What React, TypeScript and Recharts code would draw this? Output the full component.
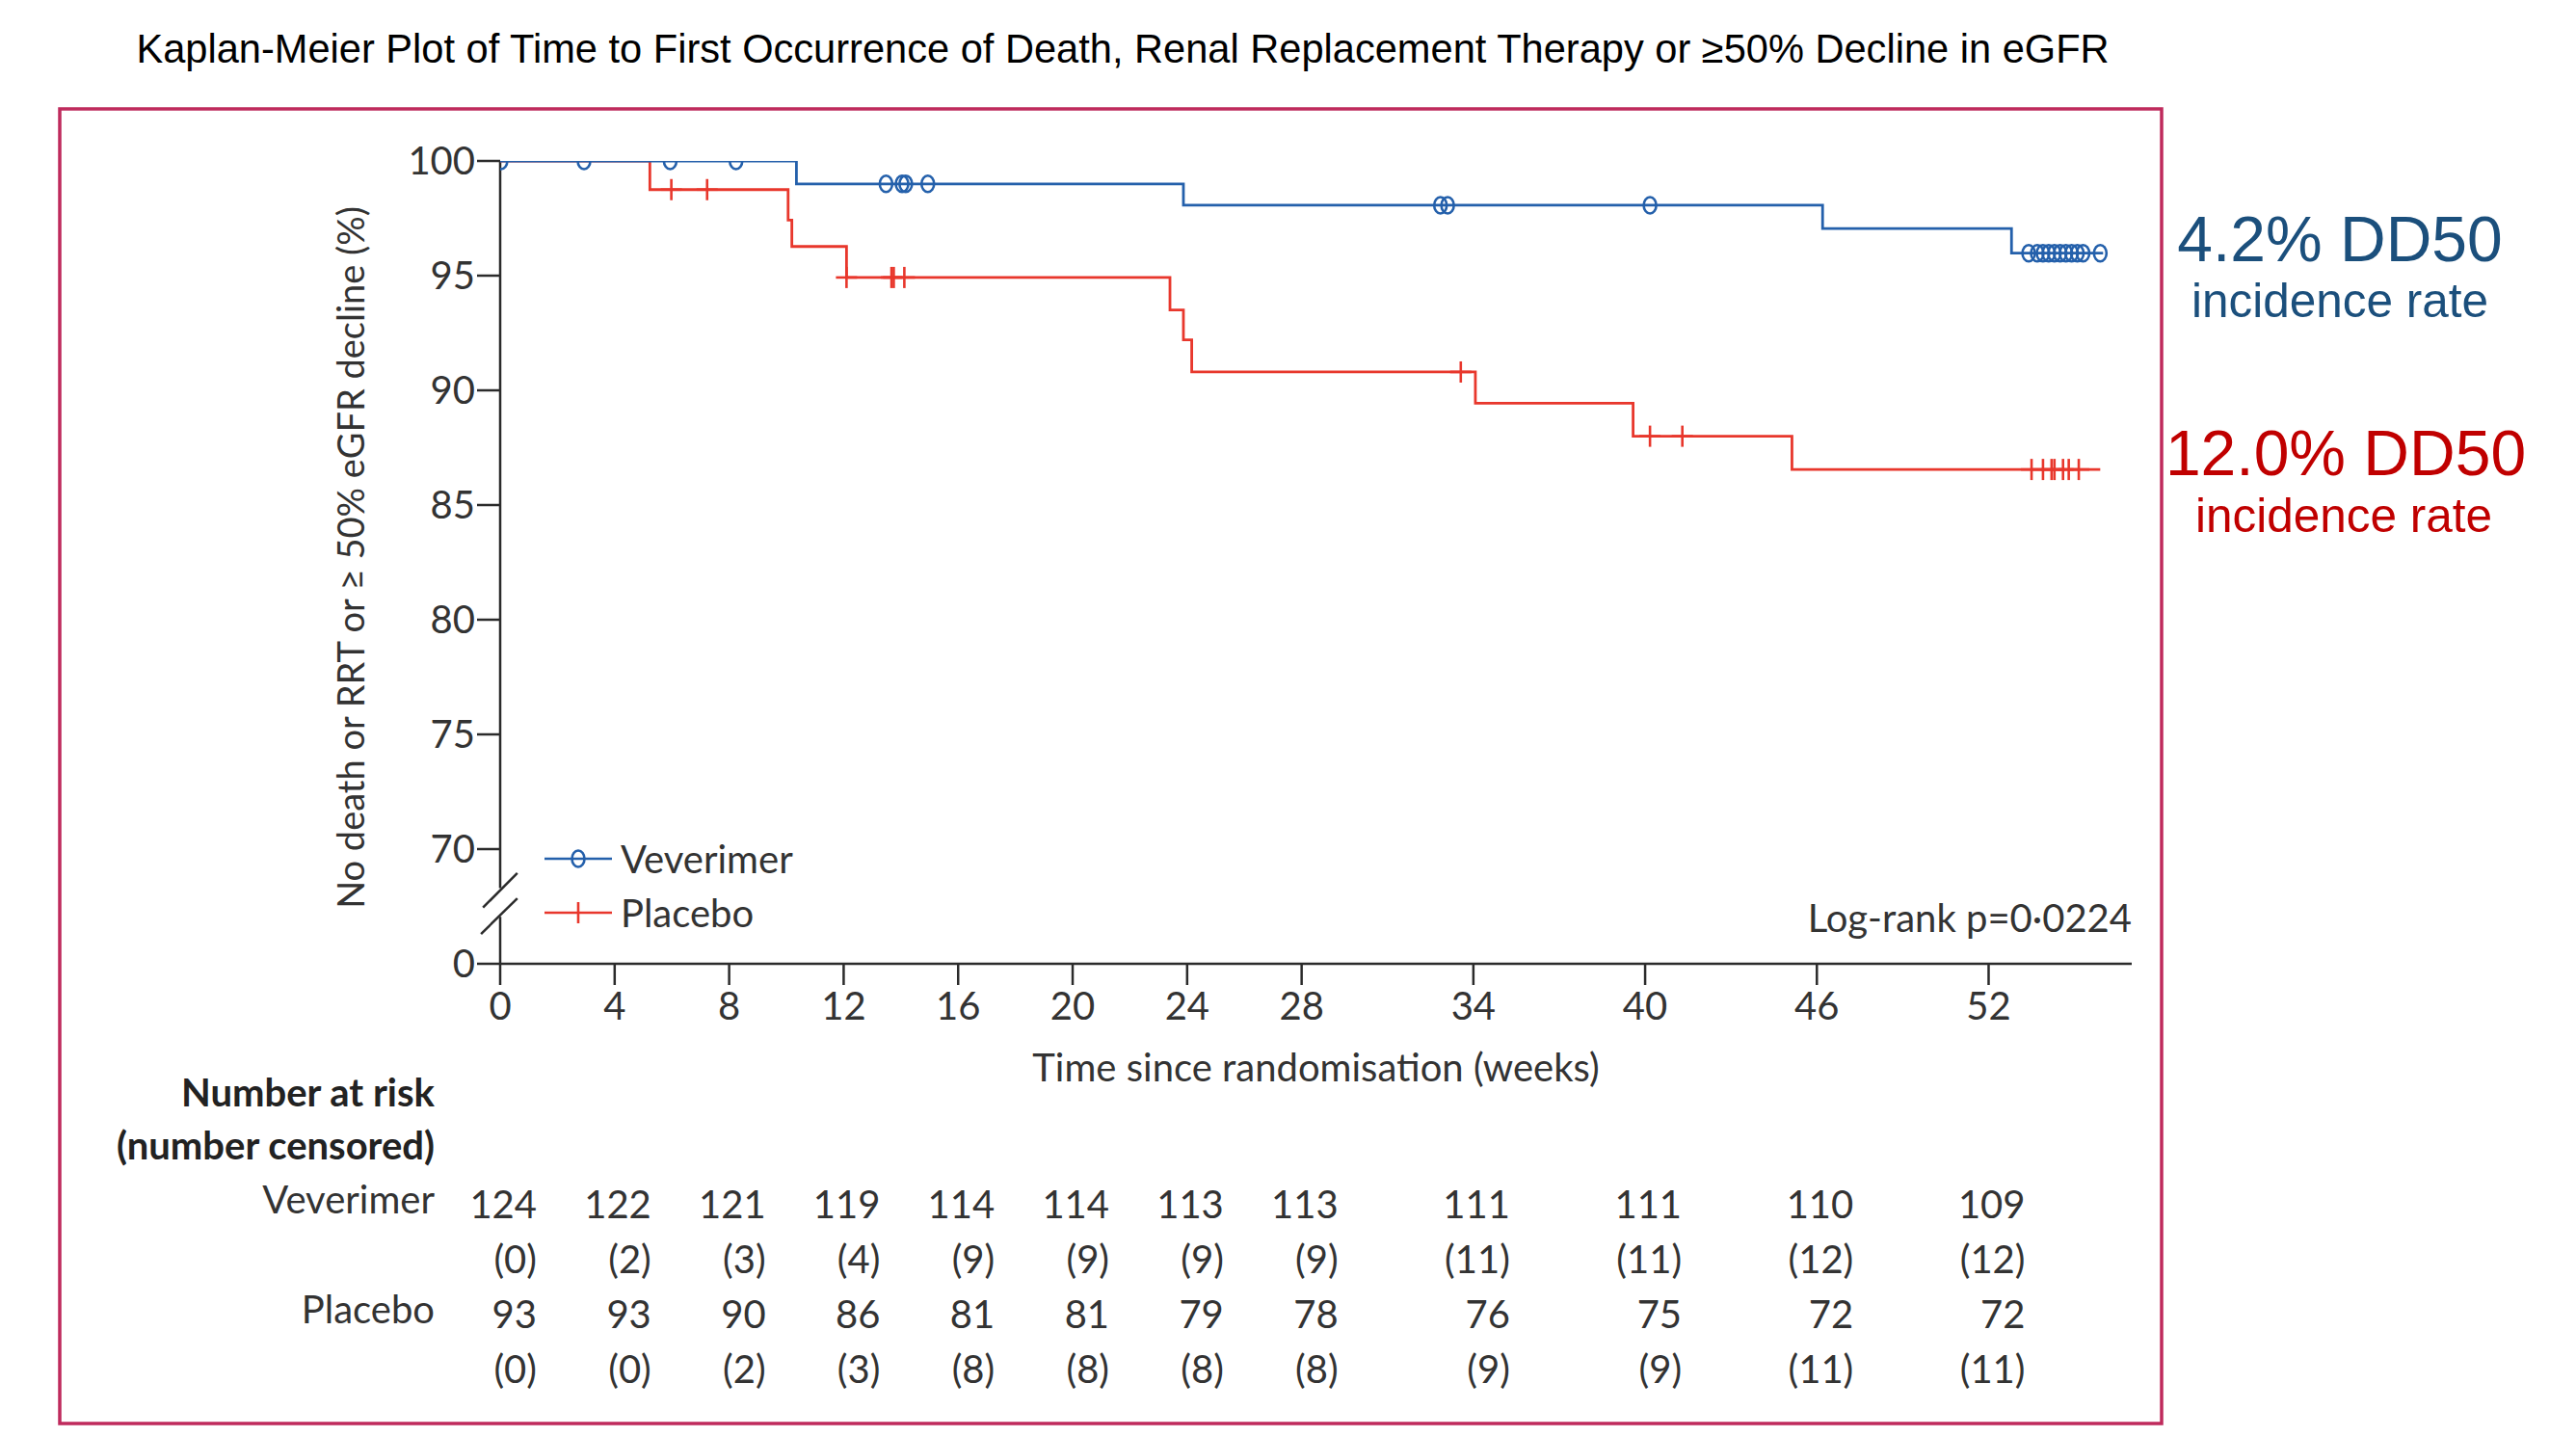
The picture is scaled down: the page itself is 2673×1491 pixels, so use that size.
import React from 'react';
import { ComposedChart, Line, Scatter, XAxis, YAxis, ReferenceLine, Legend } from 'recharts';

const W = 2673;
const H = 1491;

const weekTicks = [0, 4, 8, 12, 16, 20, 24, 28, 34, 40, 46, 52];
const yTicks = [65, 70, 75, 80, 85, 90, 95, 100];

// Kaplan-Meier steps (week, % free of event)
const vevWeeks = [0, 10.35, 23.87, 46.2, 52.8, 56.0];
const vevSurv = [100, 99.0, 98.07, 97.05, 95.98, 95.98];
const plaWeeks = [0, 5.23, 10.06, 10.19, 12.1, 23.4, 23.87, 24.16, 34.07, 39.58, 45.13, 55.9];
const plaSurv = [100, 98.75, 97.42, 96.27, 94.92, 93.5, 92.2, 90.8, 89.44, 88.0, 86.55, 86.55];

// censoring times (weeks)
const vevCensorWeeks = [0.03, 2.93, 5.94, 8.24, 13.48, 14.04, 14.17, 14.94, 32.85, 33.1, 40.17,
  53.4, 53.7, 53.9, 54.1, 54.3, 54.5, 54.7, 54.9, 55.1, 55.3, 55.9];
const plaCensorWeeks = [5.98, 7.23, 12.1, 13.67, 13.75, 14.12, 33.56, 40.17, 41.3,
  53.5, 53.9, 54.2, 54.3, 54.6, 54.8, 55.15];

// number at risk table
const vevAtRisk = [124, 122, 121, 119, 114, 114, 113, 113, 111, 111, 110, 109];
const vevCens = [0, 2, 3, 4, 9, 9, 9, 9, 11, 11, 12, 12];
const plaAtRisk = [93, 93, 90, 86, 81, 81, 79, 78, 76, 75, 72, 72];
const plaCens = [0, 0, 2, 3, 8, 8, 8, 8, 9, 9, 11, 11];

const FONT = 'Lato, "Open Sans", sans-serif';
const ARIAL = '"Liberation Sans", Arial, sans-serif';
const INK = '#333333';
const AXIS = '#2b2b2b';
const BLUE = '#2460ab';
const RED = '#e8372c';

const levelAt = (weeks: number[], surv: number[], t: number) => {
  let s = surv[0];
  weeks.forEach((w, i) => {
    if (w <= t) s = surv[i];
  });
  return s;
};

const vevLine = vevWeeks.map((t, i) => ({ t, s: vevSurv[i] }));
const plaLine = plaWeeks.map((t, i) => ({ t, s: plaSurv[i] }));
const vevMarks = vevCensorWeeks.map((t) => ({ t, s: levelAt(vevWeeks, vevSurv, t) }));
const plaMarks = plaCensorWeeks.map((t) => ({ t, s: levelAt(plaWeeks, plaSurv, t) }));

const CircleMark = (p: any) => (
  <ellipse cx={p.cx} cy={p.cy} rx={6.5} ry={8.5} fill="none" stroke={BLUE} strokeWidth={2.6} />
);

const PlusMark = (p: any) => (
  <g stroke={RED} strokeWidth={2.6}>
    <line x1={p.cx - 11} x2={p.cx + 11} y1={p.cy} y2={p.cy} />
    <line x1={p.cx} x2={p.cx} y1={p.cy - 11} y2={p.cy + 11} />
  </g>
);

const txt = { fontFamily: FONT, fontSize: 40, fill: INK };

const riskTick = (values: number[], paren: boolean) => (p: any) => {
  const i = weekTicks.indexOf(p.payload.value);
  if (i < 0) return <g />;
  return (
    <text x={p.x + 38} y={p.y + 19} textAnchor="end" {...txt}>
      {paren ? `(${values[i]})` : values[i]}
    </text>
  );
};

const rowLabel = (name: string) => (p: any) => (
  <text x={p.viewBox.x - 68} y={p.viewBox.y + 14} textAnchor="end" {...txt}>
    {name}
  </text>
);

const LegendBox = () => (
  <div style={{ fontFamily: FONT, fontSize: 40, color: INK }}>
    {[
      { name: 'Veverimer', color: BLUE, circle: true },
      { name: 'Placebo', color: RED, circle: false },
    ].map((it) => (
      <div key={it.name} style={{ display: 'flex', alignItems: 'center', height: 56 }}>
        <svg width={70} height={30}>
          <line x1={0} x2={70} y1={15} y2={15} stroke={it.color} strokeWidth={2.6} />
          {it.circle ? (
            <ellipse cx={35} cy={15} rx={6.5} ry={8.5} fill="none" stroke={it.color} strokeWidth={2.6} />
          ) : (
            <line x1={35} x2={35} y1={4} y2={26} stroke={it.color} strokeWidth={2.6} />
          )}
        </svg>
        <span style={{ marginLeft: 9, lineHeight: 1 }}>{it.name}</span>
      </div>
    ))}
  </div>
);

// bottom axes are stacked in id order, so the ids carry a sort prefix
const rowAxis = { type: 'number' as const, dataKey: 't', domain: [0, 57], allowDataOverflow: true,
  ticks: weekTicks, interval: 0, height: 57, axisLine: false, tickLine: false, tickSize: 0, tickMargin: 0 };

export default function App() {
  return (
    <div style={{ position: 'absolute', left: 0, top: 0, width: W, height: H, background: '#fff' }}>
      <ComposedChart width={W} height={H} margin={{ top: 167, right: 461, bottom: 18, left: 0 }}>
        <XAxis
          xAxisId="a_main"
          type="number"
          dataKey="t"
          domain={[0, 57]}
          allowDataOverflow
          ticks={weekTicks}
          interval={0}
          height={130}
          axisLine={{ stroke: AXIS, strokeWidth: 2.5 }}
          tickLine={{ stroke: AXIS, strokeWidth: 2.5 }}
          tickSize={22}
          tickMargin={0}
          tick={(p: any) => (
            <text x={p.x} y={p.y + 36} textAnchor="middle" {...txt}>
              {p.payload.value}
            </text>
          )}
          label={(p: any) => (
            <text x={p.viewBox.x + p.viewBox.width / 2} y={p.viewBox.y + 122} textAnchor="middle" {...txt}>
              Time since randomisation (weeks)
            </text>
          )}
        />
        <XAxis
          xAxisId="b_hdr"
          type="number"
          dataKey="t"
          domain={[0, 57]}
          allowDataOverflow
          ticks={weekTicks}
          height={115}
          axisLine={false}
          tickLine={false}
          tick={false}
          label={(p: any) => (
            <g {...txt} fontWeight={700} fill="#222" textAnchor="end">
              <text x={p.viewBox.x - 68} y={p.viewBox.y + 18}>Number at risk</text>
              <text x={p.viewBox.x - 68} y={p.viewBox.y + 73}>(number censored)</text>
            </g>
          )}
        />
        <XAxis xAxisId="c_vev" {...rowAxis} tick={riskTick(vevAtRisk, false)} label={rowLabel('Veverimer')} />
        <XAxis xAxisId="d_vevc" {...rowAxis} tick={riskTick(vevCens, true)} />
        <XAxis xAxisId="e_pla" {...rowAxis} tick={riskTick(plaAtRisk, false)} label={rowLabel('Placebo')} />
        <XAxis xAxisId="f_plac" {...rowAxis} tick={riskTick(plaCens, true)} />

        <YAxis
          yAxisId="y"
          type="number"
          dataKey="s"
          domain={[65, 100]}
          allowDataOverflow
          ticks={yTicks}
          interval={0}
          width={519}
          axisLine={false}
          tickLine={{ stroke: AXIS, strokeWidth: 2.5 }}
          tickSize={24}
          tickMargin={2}
          tick={(p: any) => (
            <text x={p.x} y={p.y} dy="0.36em" textAnchor="end" {...txt}>
              {p.payload.value === 65 ? 0 : p.payload.value}
            </text>
          )}
          label={(p: any) => (
            <text
              transform={`translate(363,${p.viewBox.y + p.viewBox.height / 2 - 5}) rotate(-90)`}
              textAnchor="middle"
              dominantBaseline="central"
              {...txt}
              fontSize={38}
            >
              No death or RRT or ≥ 50% eGFR decline (%)
            </text>
          )}
        />

        {/* broken y axis */}
        <ReferenceLine xAxisId="a_main" yAxisId="y" ifOverflow="visible" stroke={AXIS} strokeWidth={2.5}
          segment={[{ x: 0, y: 100 }, { x: 0, y: 68.3 }]} />
        <ReferenceLine xAxisId="a_main" yAxisId="y" ifOverflow="visible" stroke={AXIS} strokeWidth={2.5}
          segment={[{ x: 0, y: 67.05 }, { x: 0, y: 65 }]} />
        <ReferenceLine xAxisId="a_main" yAxisId="y" ifOverflow="visible" stroke={AXIS} strokeWidth={2.5}
          segment={[{ x: -0.6, y: 67.45 }, { x: 0.6, y: 68.95 }]} />
        <ReferenceLine xAxisId="a_main" yAxisId="y" ifOverflow="visible" stroke={AXIS} strokeWidth={2.5}
          segment={[{ x: -0.67, y: 66.3 }, { x: 0.6, y: 67.85 }]} />

        <Line xAxisId="a_main" yAxisId="y" data={plaLine} dataKey="s" type="stepAfter" stroke={RED}
          strokeWidth={2.8} dot={false} activeDot={false} isAnimationActive={false} />
        <Line xAxisId="a_main" yAxisId="y" data={vevLine} dataKey="s" type="stepAfter" stroke={BLUE}
          strokeWidth={2.8} dot={false} activeDot={false} isAnimationActive={false} />
        <Scatter xAxisId="a_main" yAxisId="y" data={plaMarks} dataKey="s" shape={PlusMark} isAnimationActive={false} />
        <Scatter xAxisId="a_main" yAxisId="y" data={vevMarks} dataKey="s" shape={CircleMark} isAnimationActive={false} />

        <Legend
          layout="vertical"
          align="center"
          verticalAlign="middle"
          content={() => <LegendBox />}
          wrapperStyle={{ left: 565, top: 863, width: 400 }}
        />
      </ComposedChart>

      <svg width={W} height={H} style={{ position: 'absolute', left: 0, top: 0, pointerEvents: 'none' }}>
        <text x={1165} y={65} textAnchor="middle" fontFamily={ARIAL} fontSize={41.6} fill="#000">
          Kaplan-Meier Plot of Time to First Occurrence of Death, Renal Replacement Therapy or ≥50% Decline in eGFR
        </text>
        <rect x={62} y={113} width={2181} height={1364} fill="none" stroke="#bf2a5c" strokeWidth={3.5} />
        <text x={2212} y={967} textAnchor="end" {...txt}>Log-rank p=0·0224</text>
        <g fontFamily={ARIAL} textAnchor="middle">
          <text x={2428} y={271} fontSize={66} fill="#1b4f7c">4.2% DD50</text>
          <text x={2428} y={329} fontSize={49.5} fill="#1b4f7c">incidence rate</text>
          <text x={2434} y={493} fontSize={66} fill="#c00000">12.0% DD50</text>
          <text x={2432} y={552} fontSize={49.5} fill="#c00000">incidence rate</text>
        </g>
      </svg>
    </div>
  );
}
